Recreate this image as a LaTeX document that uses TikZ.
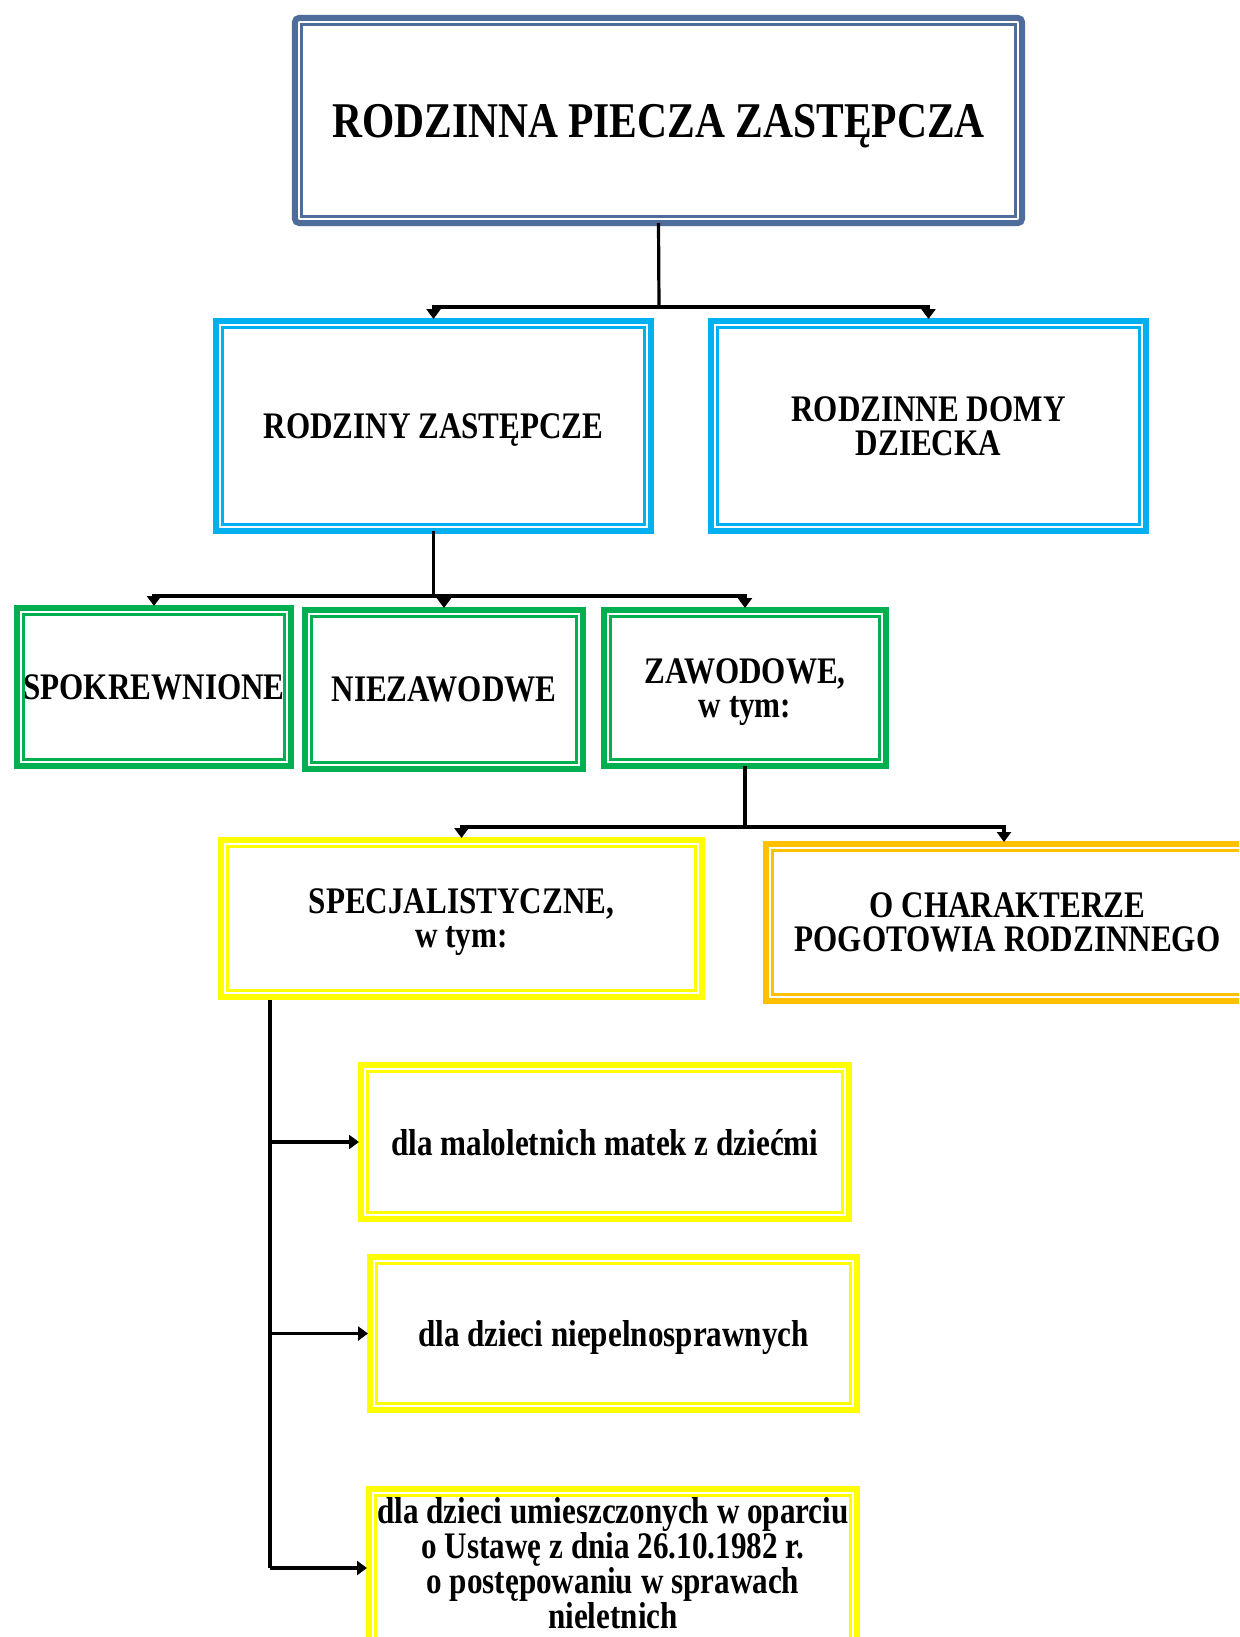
\documentclass[tikz,border=0pt]{standalone}
\usepackage{fontspec}
\setmainfont{Liberation Serif}[FakeStretch=0.83]
\usetikzlibrary{arrows.meta}
\definecolor{slate}{RGB}{79,109,154}
\definecolor{lblue}{RGB}{0,176,240}
\definecolor{grn}{RGB}{0,176,80}
\definecolor{ylw}{RGB}{255,255,0}
\definecolor{orng}{RGB}{255,192,0}
\tikzset{
  boxfont/.style={font=\fontsize{37.5bp}{34bp}\selectfont\bfseries, text=black, align=center},
  box/.style={draw=#1, line width=6bp, inner sep=0pt, outer sep=0pt, boxfont, text depth=0pt},
  innerline/.style={draw=#1, line width=2.5bp},
  conn/.style={draw=black, line width=3.2bp},
  arr/.style={conn, -{Triangle[width=14bp,length=10bp]}, shorten >=2bp},
}
\begin{document}
\begin{tikzpicture}[x=1bp,y=1bp]
\clip (0,0) rectangle (1239,-1637);
\fill[white] (0,0) rectangle (1239,-1637);

% nodes
\node[box=slate, rounded corners=4bp, minimum width=727bp, minimum height=205bp,
      font=\fontsize{50bp}{52bp}\selectfont\bfseries] (top) at (658.5,-120.5) {RODZINNA PIECZA ZASTĘPCZA};

\node[box=lblue, minimum width=435bp, minimum height=210bp] (b1) at (433.5,-426) {RODZINY ZASTĘPCZE};
\node[box=lblue, minimum width=435bp, minimum height=210bp] (b2) at (928.5,-426) {RODZINNE DOMY\\DZIECKA};

\node[box=grn, minimum width=274bp, minimum height=158bp] (g1) at (154,-687) {SPOKREWNIONE};
\node[box=grn, minimum width=278bp, minimum height=159bp] (g2) at (444,-689.5) {NIEZAWODWE};
\node[box=grn, minimum width=282bp, minimum height=156bp] (g3) at (745,-688) {ZAWODOWE,\\w tym:};

\node[box=ylw, minimum width=481bp, minimum height=157bp] (spec) at (461.5,-918.5) {SPECJALISTYCZNE,\\w tym:};
\node[box=orng, minimum width=483bp, minimum height=157bp] (och) at (1007.5,-922.5) {O CHARAKTERZE\\POGOTOWIA RODZINNEGO};

\node[box=ylw, minimum width=488bp, minimum height=154bp] (c1) at (605,-1142) {dla maloletnich matek z dziećmi};
\node[box=ylw, minimum width=487bp, minimum height=153bp] (c2) at (613.5,-1333.5) {dla dzieci niepelnosprawnych};
\node[box=ylw, minimum width=488bp, minimum height=158bp] (c3) at (613,-1568) {};
\node[boxfont, font=\fontsize{37.5bp}{31.8bp}\selectfont\bfseries, inner sep=0pt] (c3t) at (613,-1563.5)
  {dla dzieci umieszczonych w oparciu\\o Ustawę z dnia 26.10.1982 r.\\o postępowaniu w sprawach\\nieletnich};

% inner lines of the double borders
\foreach \n/\c in {top/slate,b1/lblue,b2/lblue,g1/grn,g2/grn,g3/grn,spec/ylw,och/orng,c1/ylw,c2/ylw,c3/ylw}
  \draw[innerline=\c] ([shift={(6.5bp,-6.5bp)}]\n.north west) rectangle ([shift={(-6.5bp,6.5bp)}]\n.south east);

% connectors
\coordinate (j1) at (659,-307);
\coordinate (j2) at (433.5,-596);
\coordinate (j3) at (745,-827);
\coordinate (v0) at (270,-1000);
\coordinate (v3) at (270,-1568);

\draw[conn] (top.south) -- (j1);
\draw[arr] (j1) -| (b1.north);
\draw[arr] (j1) -| (b2.north);

\draw[conn] (b1.south) -- (j2);
\draw[arr] (j2) -| (g1.north);
\draw[arr] (j2) -| (g2.north);
\draw[arr] (j2) -| (g3.north);

\draw[conn] (g3.south) -- (j3);
\draw[arr] (j3) -| (spec.north);
\draw[arr] (j3) -| ([xshift=-3.5bp]och.north);

\draw[conn] (v0) -- (v3);
\draw[arr] (v0 |- c1.west) -- (c1.west);
\draw[arr] (v0 |- c2.west) -- (c2.west);
\draw[arr] (v3) -- (c3.west);
\end{tikzpicture}
\end{document}
